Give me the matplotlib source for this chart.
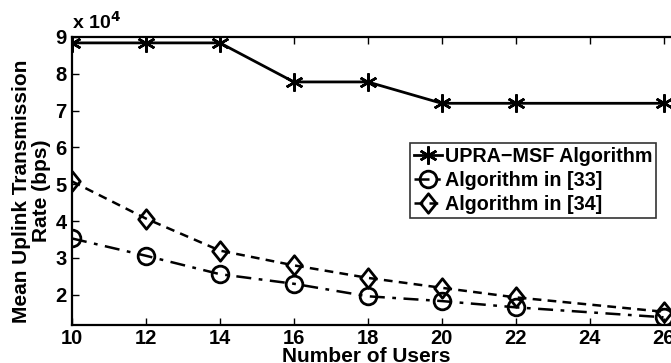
import matplotlib
matplotlib.use('Agg')
import matplotlib.pyplot as plt
from matplotlib.path import Path
from matplotlib.ticker import FuncFormatter

plt.rcParams['font.family'] = ['Liberation Sans', 'DejaVu Sans']
plt.rcParams['font.weight'] = 'bold'

users = [10, 12, 14, 16, 18, 20, 22, 26]
upra_msf = [88400, 88400, 88400, 77800, 77800, 72000, 72000, 72000]
alg33 = [35300, 30600, 25600, 23000, 19600, 18300, 16600, 13900]
alg34 = [50800, 40700, 32000, 28000, 24600, 21900, 19300, 15400]

# slightly tall diamond, like MATLAB's 'd'
diamond = Path([(0, 1), (0.8, 0), (0, -1), (-0.8, 0), (0, 1)],
               [Path.MOVETO, Path.LINETO, Path.LINETO, Path.LINETO, Path.CLOSEPOLY])

fig = plt.figure(figsize=(6.71, 3.63), dpi=100)
ax = fig.add_axes([72/671, 38/363, 610/671, 288/363])

ax.plot(users, upra_msf, color='black', linestyle='-', linewidth=2,
        marker=(6, 2, 0), markersize=13, markeredgewidth=1.8,
        label='UPRA\u2212MSF Algorithm')
ax.plot(users, alg33, color='black', linestyle=(0, (6, 3, 1.5, 3)), linewidth=1.8,
        marker='o', markersize=12, markerfacecolor='none', markeredgewidth=2,
        label='Algorithm in [33]')
ax.plot(users, alg34, color='black', linestyle=(0, (3.5, 2.5)), linewidth=1.8,
        marker=diamond, markersize=14, markerfacecolor='none', markeredgewidth=2,
        label='Algorithm in [34]')

ax.set_xlim(10, 26.5)
ax.set_ylim(11800, 90000)
ax.set_xticks(range(10, 27, 2))
ax.set_yticks([20000, 30000, 40000, 50000, 60000, 70000, 80000, 90000])
ax.yaxis.set_major_formatter(FuncFormatter(lambda v, p: '%d' % round(v / 1e4)))
ax.tick_params(direction='in', length=5, width=1, labelsize=14.5, top=True, right=True, pad=4)
ax.tick_params(axis='x', pad=3)
for lab in ax.get_xticklabels() + ax.get_yticklabels():
    lab.set_fontweight('bold')
for sp in ax.spines.values():
    sp.set_linewidth(1.6)

ax.text(0.0, 1.015, 'x 10$^{\\mathbf{4}}$', transform=ax.transAxes,
        fontsize=14, fontweight='bold', ha='left', va='bottom')

ax.set_xlabel('Number of Users', fontsize=15, fontweight='bold', labelpad=-1)
ax.xaxis.label.set_x((366 - 72) / 610)
ax.set_ylabel('Mean Uplink Transmission\nRate (bps)', fontsize=15,
              fontweight='bold', labelpad=3, linespacing=1.05)
ax.yaxis.label.set_y(0.465)

leg = ax.legend(loc='upper left', bbox_to_anchor=(338/610, 1 - 106/288),
                fontsize=14.2, frameon=True, fancybox=False, handlelength=1.4,
                handletextpad=0.15, borderpad=0.2, labelspacing=0.25,
                borderaxespad=0)
leg.get_frame().set_edgecolor('black')
leg.get_frame().set_linewidth(1.2)
for t in leg.get_texts():
    t.set_fontweight('bold')

fig.savefig('out.png', dpi=100)
